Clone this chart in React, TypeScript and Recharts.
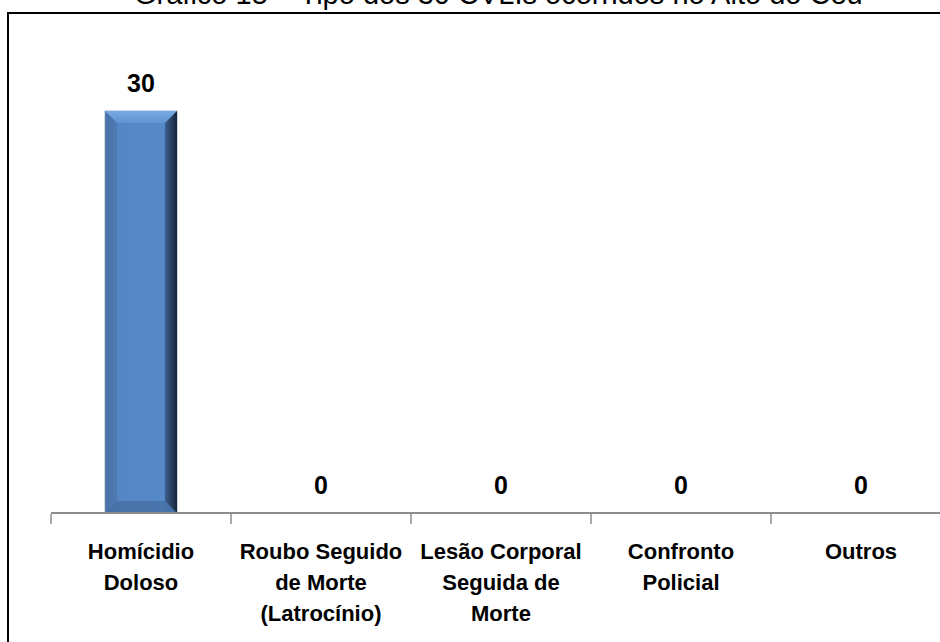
import React from "react";
import { BarChart, Bar, XAxis, YAxis, LabelList } from "recharts";

const categories = [
  "Homícidio\nDoloso",
  "Roubo Seguido\nde Morte\n(Latrocínio)",
  "Lesão Corporal\nSeguida de\nMorte",
  "Confronto\nPolicial",
  "Outros",
];
const counts = [30, 0, 0, 0, 0];
const title = "Gráfico 15 – Tipo dos 30 CVLIs ocorridos no Alto do Céu";

const data = categories.map((c, i) => ({ name: c, v: counts[i] }));

const FONT = "'Liberation Sans', Arial, sans-serif";

// bevelled bar, like the office "3d" bar style
function BevelBar(props: any) {
  const { x, y, width, height } = props;
  if (!height || height <= 0) return null;
  const b = 12;
  return (
    <g>
      <rect x={x} y={y} width={width} height={height} fill="url(#barBody)" stroke="#9fb3cc" strokeWidth={1} />
      <polygon points={`${x},${y} ${x + width},${y} ${x + width - b},${y + b} ${x + b},${y + b}`} fill="url(#barTop)" />
      <polygon points={`${x},${y + height} ${x + width},${y + height} ${x + width - b},${y + height - b} ${x + b},${y + height - b}`} fill="#3f6798" opacity={0.6} />
      <polygon points={`${x + width},${y} ${x + width},${y + height} ${x + width - b},${y + height - b} ${x + width - b},${y + b}`} fill="url(#barRight)" />
      <polygon points={`${x},${y} ${x},${y + height} ${x + b},${y + height - b} ${x + b},${y + b}`} fill="#44699b" opacity={0.45} />
    </g>
  );
}

// ticks sit between categories (office style), labels centred
function CatTick(props: any) {
  const { x, y, payload } = props;
  const lines = String(payload.value).split("\n");
  const edge = x - (payload.offset || 0);
  return (
    <g>
      <line x1={edge} y1={y - 1} x2={edge} y2={y + 9} stroke="#8c8c8c" strokeWidth={1.5} />
      <text x={x} y={y} textAnchor="middle" fontFamily={FONT} fontWeight="bold" fontSize={22} fill="#000">
        {lines.map((l, i) => (
          <tspan key={i} x={x} y={y + 44 + i * 31}>{l}</tspan>
        ))}
      </text>
    </g>
  );
}

export default function App() {
  return (
    <div style={{ position: "fixed", left: 0, top: 0, width: 940, height: 642, overflow: "hidden", background: "#fff" }}>
      <div
        style={{
          position: "absolute", left: 0, top: -24, width: 1000, textAlign: "left", paddingLeft: 134,
          fontFamily: FONT, fontSize: 29, lineHeight: "36px", color: "#000", whiteSpace: "nowrap",
        }}
      >
        {title}
      </div>
      <div style={{ position: "absolute", left: 7, top: 12, width: 960, height: 700, borderLeft: "2px solid #000", borderTop: "2px solid #000" }} />
      <div style={{ position: "absolute", left: 0, top: 0 }}>
        <BarChart width={960} height={642} data={data} margin={{ top: 111, right: 9, left: 51, bottom: 29 }} barSize={72}>
          <defs>
            <linearGradient id="barBody" x1="0" y1="0" x2="1" y2="0">
              <stop offset="0%" stopColor="#4d7ab0" />
              <stop offset="15%" stopColor="#5586c4" />
              <stop offset="80%" stopColor="#5689c8" />
              <stop offset="100%" stopColor="#4a77ad" />
            </linearGradient>
            <linearGradient id="barTop" x1="0" y1="0" x2="0" y2="1">
              <stop offset="0%" stopColor="#7aaae3" />
              <stop offset="100%" stopColor="#5f93d2" />
            </linearGradient>
            <linearGradient id="barRight" x1="0" y1="0" x2="1" y2="0">
              <stop offset="0%" stopColor="#3c6190" />
              <stop offset="100%" stopColor="#14233a" />
            </linearGradient>
          </defs>
          <XAxis
            dataKey="name"
            height={100}
            interval={0}
            axisLine={{ stroke: "#8c8c8c", strokeWidth: 2 }}
            tickLine={false}
            tickSize={0}
            tick={<CatTick />}
            scale="band"
          />
          <YAxis hide domain={[0, 30]} />
          <Bar dataKey="v" shape={<BevelBar />} isAnimationActive={false}>
            <LabelList dataKey="v" position="top" offset={19} fill="#000" fontFamily={FONT} fontWeight="bold" fontSize={25} />
          </Bar>
        </BarChart>
      </div>
    </div>
  );
}
